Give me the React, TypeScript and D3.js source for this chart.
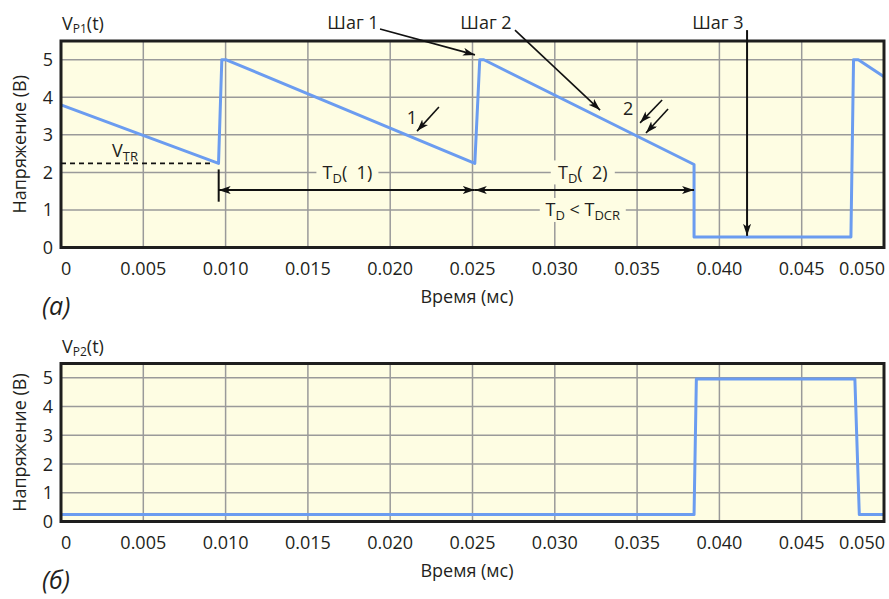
import React from "react";
import * as d3 from "d3";

// ---------- data ----------
const xTicks = [0, 0.005, 0.01, 0.015, 0.02, 0.025, 0.03, 0.035, 0.04, 0.045, 0.05];
const xTickLabels = ["0", "0.005", "0.010", "0.015", "0.020", "0.025", "0.030", "0.035", "0.040", "0.045", "0.050"];
const yTicks = [0, 1, 2, 3, 4, 5];

const p1Time = [0, 0.00957, 0.00977, 0.01004, 0.02514, 0.02544, 0.02569, 0.03846, 0.03846, 0.04799, 0.04815, 0.04844, 0.05];
const p1Volt = [3.8, 2.24, 5.0, 5.0, 2.24, 5.0, 5.0, 2.21, 0.28, 0.28, 5.0, 5.0, 4.55];

const p2Time = [0, 0.03846, 0.0386, 0.04823, 0.0485, 0.05];
const p2Volt = [0.24, 0.24, 4.96, 4.96, 0.24, 0.24];

// annotation anchors (data units)
const vtr = 2.24;
const tdStart = 0.00958;
const tdMid = 0.02514;
const tdEnd = 0.03846;
const tdArrowV = 1.53;

const W = 889;
const H = 599;
const FONT = "'Open Sans', 'DejaVu Sans', sans-serif";
const TXT = "#231f20";
const BG = "#fefde3";
const GRID = "#9a9a9a";
const LINE = "#6b9cf0";
const FS = 18;
const NB = "\u00a0";

function Panel({ top, bottom, series, label, title, children }: any) {
  const x = d3.scaleLinear().domain([0, 0.05]).range([61, 884]);
  const y = d3.scaleLinear().domain([0, 5.5]).range([bottom, top]);
  const line = d3
    .line<number>()
    .x((_, i) => x(series.t[i]))
    .y((v) => y(v));
  return (
    <g>
      <rect x={61} y={top} width={823} height={bottom - top} fill={BG} />
      {xTicks.slice(1, -1).map((t) => (
        <line key={"gx" + t} x1={x(t)} x2={x(t)} y1={top} y2={bottom} stroke={GRID} strokeWidth={1.5} />
      ))}
      {yTicks.slice(1).map((v) => (
        <line key={"gy" + v} x1={61} x2={884} y1={y(v)} y2={y(v)} stroke={GRID} strokeWidth={1.5} />
      ))}
      {children && children(x, y, "under")}
      <path d={line(series.v) || ""} fill="none" stroke={LINE} strokeWidth={3} strokeLinejoin="round" />
      <rect x={61} y={top} width={823} height={bottom - top} fill="none" stroke="#1e1e1e" strokeWidth={3} />
      {yTicks.map((v) => (
        <text key={"yl" + v} x={53} y={y(v)} dy="0.36em" textAnchor="end" fontSize={FS} fill={TXT}>
          {v}
        </text>
      ))}
      {xTicks.map((t, i) => (
        <text
          key={"xl" + t}
          x={i === 0 ? 61 : i === xTicks.length - 1 ? 885 : x(t)}
          y={bottom + 27}
          textAnchor={i === 0 ? "start" : i === xTicks.length - 1 ? "end" : "middle"}
          fontSize={FS}
          fill={TXT}
        >
          {xTickLabels[i]}
        </text>
      ))}
      <text x={467} y={bottom + 55} textAnchor="middle" fontSize={FS} fill={TXT}>
        Время (мс)
      </text>
      <text
        transform={`translate(26,${(top + bottom) / 2}) rotate(-90)`}
        textAnchor="middle"
        fontSize={FS}
        fill={TXT}
      >
        Напряжение (В)
      </text>
      <text x={62} y={top - 11} fontSize={FS} fill={TXT}>
        V<tspan fontSize={12} dy={3}>{title}</tspan>
        <tspan dy={-3}>(t)</tspan>
      </text>
      <text x={42} y={bottom + 67} fontSize={25} fontStyle="italic" fill={TXT}>
        {label}
      </text>
      {children && children(x, y, "over")}
    </g>
  );
}

function LabelBox({ cx, cy, w, children }: any) {
  return (
    <g>
      <rect x={cx - w / 2} y={cy - 12} width={w} height={24} fill={BG} />
      <text x={cx} y={cy} dy="0.36em" textAnchor="middle" fontSize={FS} fill={TXT}>
        {children}
      </text>
    </g>
  );
}

function topAnnotations(x: any, y: any, layer: string) {
  if (layer === "under") {
    return (
      <g>
        <LabelBox cx={x(0.0174)} cy={y(2)} w={62}>
          T<tspan fontSize={13} dy={4}>D</tspan>
          <tspan dy={-4}>{"(" + NB + NB + "1)"}</tspan>
        </LabelBox>
        <LabelBox cx={x(0.0317)} cy={y(2)} w={64}>
          T<tspan fontSize={13} dy={4}>D</tspan>
          <tspan dy={-4}>{"(" + NB + NB + "2)"}</tspan>
        </LabelBox>
        <LabelBox cx={x(0.0317)} cy={y(1)} w={86}>
          T<tspan fontSize={13} dy={4}>D</tspan>
          <tspan dy={-4}>{NB + "<" + NB + "T"}</tspan>
          <tspan fontSize={13} dy={4}>DCR</tspan>
        </LabelBox>
      </g>
    );
  }
  const arrow = (x1: number, y1: number, x2: number, y2: number, key: string) => (
    <line key={key} x1={x1} y1={y1} x2={x2} y2={y2} stroke="#111" strokeWidth={1.6} markerEnd="url(#ah)" />
  );
  return (
    <g>
      <line x1={x(0)} x2={x(0.00925)} y1={y(vtr)} y2={y(vtr)} stroke="#111" strokeWidth={1.6} strokeDasharray="5,4" />
      <text x={x(0.0031)} y={y(2.41)} fontSize={FS} fill={TXT}>
        V<tspan fontSize={13} dy={4}>TR</tspan>
      </text>
      <line x1={x(tdStart)} x2={x(tdStart)} y1={y(2.08)} y2={y(1.22)} stroke="#111" strokeWidth={2} />
      <line x1={x(tdStart)} x2={x(tdMid)} y1={y(tdArrowV)} y2={y(tdArrowV)} stroke="#111" strokeWidth={2}
        markerStart="url(#ahs)" markerEnd="url(#ah)" />
      <line x1={x(tdMid)} x2={x(tdEnd)} y1={y(tdArrowV)} y2={y(tdArrowV)} stroke="#111" strokeWidth={2}
        markerStart="url(#ahs)" markerEnd="url(#ah)" />
      {arrow(x(0.01938), y(5.82), x(0.02515), y(5.13), "s1")}
      {arrow(x(0.02758), y(5.79), x(0.03275), y(3.66), "s2")}
      <line x1={x(0.04168)} x2={x(0.04168)} y1={y(5.79)} y2={y(0.31)} stroke="#111" strokeWidth={2} markerEnd="url(#ah)" />
      {arrow(x(0.02296), y(3.74), x(0.02163), y(3.1), "a1")}
      {arrow(x(0.03652), y(3.93), x(0.03518), y(3.32), "a2")}
      {arrow(x(0.03688), y(3.69), x(0.03554), y(3.05), "a3")}
      <text x={x(0.01774)} y={y(5.82)} textAnchor="middle" fontSize={FS} fill={TXT}>Шаг 1</text>
      <text x={x(0.02582)} y={y(5.82)} textAnchor="middle" fontSize={FS} fill={TXT}>Шаг 2</text>
      <text x={x(0.03991)} y={y(5.82)} textAnchor="middle" fontSize={FS} fill={TXT}>Шаг 3</text>
      <text x={x(0.02132)} y={y(3.47)} dy="0.36em" textAnchor="middle" fontSize={FS} fill={TXT}>1</text>
      <text x={x(0.03445)} y={y(3.69)} dy="0.36em" textAnchor="middle" fontSize={FS} fill={TXT}>2</text>
    </g>
  );
}

export default function App() {
  return (
    <svg width={W} height={H} style={{ position: "absolute", left: 0, top: 0, fontFamily: FONT }}>
      <defs>
        <marker id="ah" viewBox="0 0 12 8" refX={12} refY={4} markerWidth={12} markerHeight={8}
          markerUnits="userSpaceOnUse" orient="auto">
          <path d="M0,0 L12,4 L0,8 L3,4 Z" fill="#111" />
        </marker>
        <marker id="ahs" viewBox="0 0 12 8" refX={12} refY={4} markerWidth={12} markerHeight={8}
          markerUnits="userSpaceOnUse" orient="auto-start-reverse">
          <path d="M0,0 L12,4 L0,8 L3,4 Z" fill="#111" />
        </marker>
      </defs>
      <rect width={W} height={H} fill="#fff" />
      <Panel top={41} bottom={247.5} series={{ t: p1Time, v: p1Volt }} label="(а)" title="P1">
        {topAnnotations}
      </Panel>
      <Panel top={363.5} bottom={521.5} series={{ t: p2Time, v: p2Volt }} label="(б)" title="P2" />
    </svg>
  );
}
